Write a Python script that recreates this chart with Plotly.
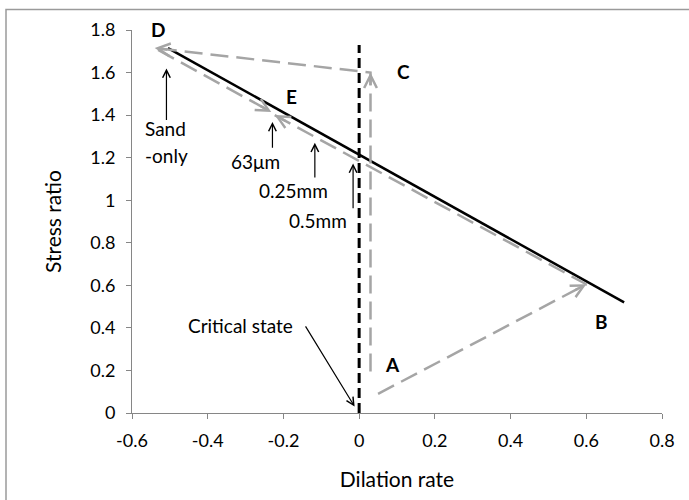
import math
import plotly.graph_objects as go

# ---- data -------------------------------------------------------------
# stress-dilatancy relation (solid black)
sd_x = [-0.505, 0.70]
sd_y = [1.715, 0.52]

# critical state (zero dilation, dashed black)
cs_x = [0.0, 0.0]
cs_y = [0.0, 1.73]

# stress path A -> B -> E
path1_x = [0.05, 0.60, -0.223]
path1_y = [0.09, 0.605, 1.40]

# stress path A -> C -> D -> E
path2_x = [0.03, 0.03, -0.54, -0.232]
path2_y = [0.195, 1.60, 1.715, 1.415]

# point letters
letters = ["A", "B", "C", "D", "E"]
letter_x = [0.087, 0.640, 0.116, -0.531, -0.179]
letter_y = [0.227, 0.430, 1.606, 1.804, 1.486]

# labelled pointers: text, text position, arrow tail, arrow tip
pointer_text = ["Sand", "-only", "63\u03bcm", "0.25mm", "0.5mm", "Critical state"]
pointer_tx = [-0.512, -0.509, -0.2725, -0.173, -0.109, -0.314]
pointer_ty = [1.338, 1.212, 1.184, 1.048, 0.907, 0.410]
arrow_tail_x = [-0.509, -0.229, -0.117, -0.016, -0.144]
arrow_tail_y = [1.370, 1.240, 1.100, 0.955, 0.414]
arrow_tip_x = [-0.509, -0.229, -0.117, -0.016, -0.012]
arrow_tip_y = [1.619, 1.368, 1.270, 1.173, 0.030]

# axes
x_ticks = [-0.6, -0.4, -0.2, 0, 0.2, 0.4, 0.6, 0.8]
x_ticktext = ["-0.6", "-0.4", "-0.2", "0", "0.2", "0.4", "0.6", "0.8"]
y_ticks = [0, 0.2, 0.4, 0.6, 0.8, 1.0, 1.2, 1.4, 1.6, 1.8]
y_ticktext = ["0", "0.2", "0.4", "0.6", "0.8", "1", "1.2", "1.4", "1.6", "1.8"]
x_range = [-0.6, 0.8]
y_range = [0, 1.8]

# ---- layout geometry ----------------------------------------------------
W, H = 689, 500
ML, MR, MT, MB = 132, 27, 30, 87
PW, PH = W - ML - MR, H - MT - MB
X_PX = PW / (x_range[1] - x_range[0])
Y_PX = PH / (y_range[1] - y_range[0])

FONT = "Lato, Carlito, Calibri, sans-serif"
GREY = "#a5a5a5"
AXIS = "#868686"


def x_paper(v):
    return (v - x_range[0]) / (x_range[1] - x_range[0])


def y_paper(v):
    return (v - y_range[0]) / (y_range[1] - y_range[0])


fig = go.Figure()

fig.add_trace(go.Scatter(x=sd_x, y=sd_y, mode="lines",
                         line=dict(color="black", width=2.5),
                         hoverinfo="skip", showlegend=False))
fig.add_trace(go.Scatter(x=cs_x, y=cs_y, mode="lines",
                         line=dict(color="black", width=3, dash="10px,5px"),
                         hoverinfo="skip", showlegend=False))
for px_, py_ in [(path1_x, path1_y), (path2_x, path2_y)]:
    fig.add_trace(go.Scatter(x=px_, y=py_, mode="lines",
                             line=dict(color=GREY, width=2.5, dash="18px,8px"),
                             hoverinfo="skip", showlegend=False))

annotations = []

# open arrow heads at the end of each path segment
HEAD_LEN = 14
for px_, py_ in [(path1_x, path1_y), (path2_x, path2_y)]:
    for i in range(1, len(px_)):
        dxs = (px_[i] - px_[i - 1]) * X_PX
        dys = -(py_[i] - py_[i - 1]) * Y_PX
        n = math.hypot(dxs, dys)
        annotations.append(dict(
            x=px_[i], y=py_[i], xref="x", yref="y", text="",
            showarrow=True, arrowhead=5, arrowwidth=2.5, arrowsize=1,
            arrowcolor=GREY, standoff=0,
            ax=-dxs / n * HEAD_LEN, ay=-dys / n * HEAD_LEN))

# bold point letters (paper coords so "D" above the top tick still shows)
for t, x, y in zip(letters, letter_x, letter_y):
    annotations.append(dict(x=x_paper(x), y=y_paper(y), xref="paper", yref="paper",
                            xanchor="center", yanchor="middle",
                            text="<b>%s</b>" % t, showarrow=False,
                            font=dict(family=FONT, size=19, color="black")))

# pointer labels
for t, x, y in zip(pointer_text, pointer_tx, pointer_ty):
    annotations.append(dict(x=x, y=y, xref="x", yref="y", text=t,
                            xanchor="center", yanchor="middle",
                            showarrow=False,
                            font=dict(family=FONT, size=19, color="black")))

# thin black pointer arrows
for tx, ty, hx, hy in zip(arrow_tail_x, arrow_tail_y, arrow_tip_x, arrow_tip_y):
    annotations.append(dict(x=hx, y=hy, ax=tx, ay=ty, xref="x", yref="y",
                            axref="x", ayref="y", text="", showarrow=True,
                            arrowhead=5, arrowwidth=1.2, arrowsize=1.25,
                            arrowcolor="black", standoff=0))

# chart-area frame
shapes = [dict(type="rect", xref="paper", yref="paper",
               x0=(6 - ML) / PW, x1=(W + 10 - ML) / PW,
               y0=-(H + 10 - (MT + PH)) / PH, y1=(MT + PH - 9.5) / PH,
               line=dict(color="#9a9a9a", width=1.5), fillcolor="rgba(0,0,0,0)",
               layer="below")]

axis_common = dict(showgrid=False, zeroline=False, showline=True,
                   linecolor=AXIS, linewidth=1, ticks="outside", ticklen=5,
                   tickcolor=AXIS, tickwidth=1,
                   tickfont=dict(family=FONT, size=18, color="black"))

fig.update_layout(
    width=W, height=H,
    margin=dict(l=ML, r=MR, t=MT, b=MB, pad=0),
    paper_bgcolor="white", plot_bgcolor="white",
    xaxis=dict(range=x_range, tickmode="array", tickvals=x_ticks,
               ticktext=x_ticktext, ticklabelstandoff=6,
               title=dict(text="Dilation rate", standoff=22,
                          font=dict(family=FONT, size=21, color="black")),
               **axis_common),
    yaxis=dict(range=y_range, tickmode="array", tickvals=y_ticks,
               ticktext=y_ticktext, ticklabelstandoff=7,
               title=dict(text="Stress ratio", standoff=22,
                          font=dict(family=FONT, size=21, color="black")),
               **axis_common),
    annotations=annotations,
    shapes=shapes,
)

fig.write_html("out.html")
